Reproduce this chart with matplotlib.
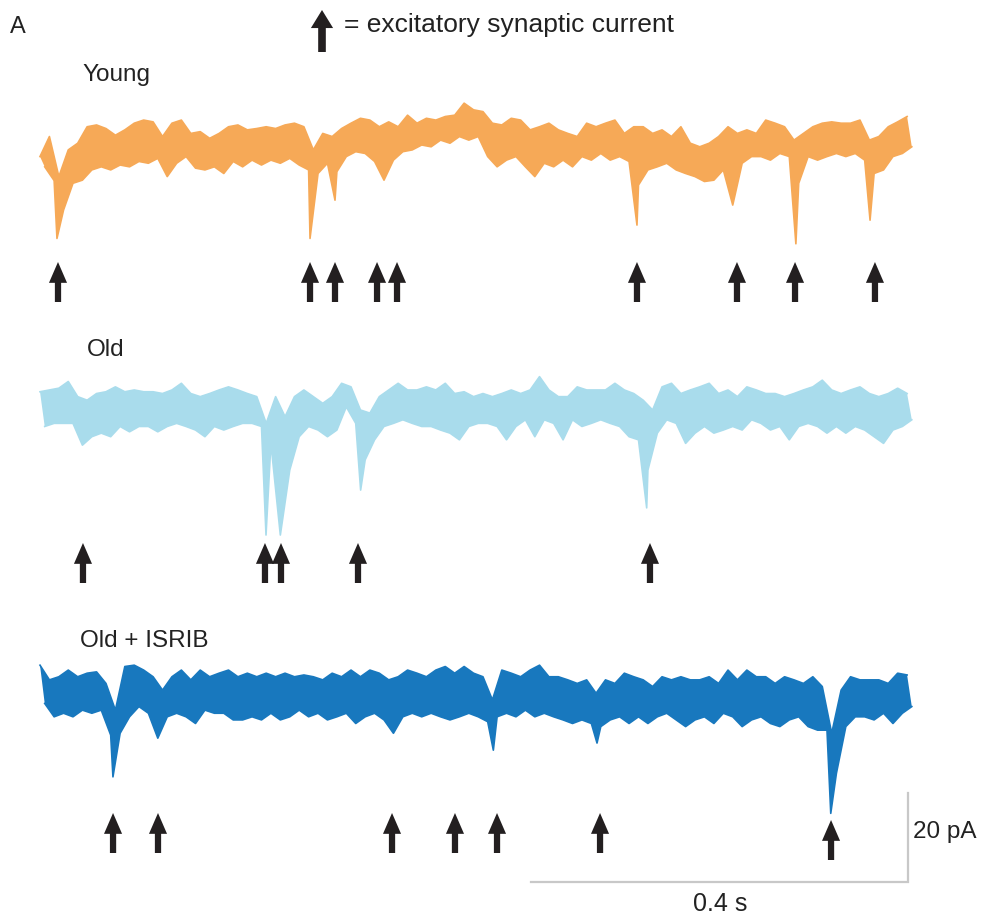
import matplotlib
matplotlib.use("Agg")
import matplotlib.pyplot as plt

plt.rcParams['font.family'] = ['Liberation Sans', 'DejaVu Sans']

# Recordings shown as min/max per 10 ms bin (pA, relative to each trace's baseline):
# the upper value sits at 10*k ms, the lower value at 10*k + 5 ms.
# Peaks of the sharp inward currents are listed separately as (ms, pA).
STEP = 10.0

young_hi = [-2.6, 1.9, -7.1, -1.1, 0.4, 4.1, 4.5, 3.7, 2.2, 3.4, 4.9, 5.6, 5.2, 1.9, 4.9, 5.6,
            2.6, 3.0, 1.5, 2.6, 4.1, 4.5, 3.4, 3.7, 4.1, 3.7, 4.5, 4.9, 4.1, -1.1, 2.6, 1.9,
            3.7, 4.9, 6.0, 5.6, 4.1, 5.2, 4.1, 6.7, 4.9, 6.0, 5.6, 6.4, 6.7, 9.4, 7.9, 7.5,
            4.9, 4.5, 6.0, 5.6, 3.4, 4.1, 4.9, 3.4, 2.6, 1.9, 4.9, 4.1, 4.9, 5.6, 2.6, 4.1,
            4.1, 2.6, 3.4, 1.9, 4.1, 0.4, -0.4, 0.4, 1.9, 4.1, 2.6, 3.4, 2.6, 5.6, 4.9, 4.1,
            1.1, 2.6, 4.1, 4.9, 5.2, 4.9, 4.9, 5.6, 1.1, 1.9, 4.1, 5.2, 6.4]
young_lo = [-4.9, -8.0, -14.6, -8.6, -7.9, -5.6, -4.9, -5.6, -4.5, -4.9, -3.7, -4.1, -3.0, -7.1, -4.1, -2.6,
            -5.2, -5.6, -4.9, -6.4, -3.7, -4.9, -3.4, -4.5, -3.4, -4.1, -3.0, -4.5, -5.6, -6.4, -4.1, -6.0,
            -2.6, -1.5, -1.9, -3.7, -7.9, -3.4, -1.5, -1.1, 0.0, -0.4, 1.1, 0.4, 1.9, 1.1, 1.9, -2.6,
            -4.9, -3.4, -2.6, -4.9, -7.1, -4.1, -4.9, -3.4, -4.9, -2.6, -3.4, -1.9, -3.4, -2.6, -3.7, -9.0,
            -5.6, -4.9, -4.1, -5.6, -6.4, -7.1, -8.2, -7.9, -5.6, -13.5, -4.1, -2.6, -2.6, -3.4, -1.9, -2.6,
            -8.6, -2.6, -3.4, -2.6, -1.9, -2.6, -1.9, -3.4, -6.4, -5.6, -2.6, -1.9, -0.4]
young_peaks = [(18.0, -21.0), (286.5, -21.0), (313.0, -12.4), (633.4, -18.0), (802.0, -22.2),
               (880.7, -16.9)]

old_hi = [4.1, 4.5, 4.9, 6.4, 3.0, 2.2, 3.7, 4.1, 5.2, 4.1, 4.5, 4.1, 4.1, 3.7, 4.5, 6.0,
          3.7, 3.0, 3.7, 4.5, 5.2, 4.5, 3.7, 3.0, -3.0, 3.0, -1.5, 3.0, 4.5, 3.0, 1.5, 3.0,
          6.0, 5.2, 0.0, -0.7, 3.0, 4.5, 6.0, 4.5, 4.5, 5.2, 4.5, 6.0, 3.7, 4.1, 3.0, 3.7,
          3.0, 3.7, 4.5, 3.7, 4.5, 7.5, 4.5, 3.0, 3.0, 5.2, 4.5, 4.5, 4.5, 6.0, 4.5, 3.7,
          2.2, 0.0, 5.2, 6.0, 3.7, 4.5, 5.2, 6.0, 3.7, 4.5, 3.0, 5.2, 4.5, 3.7, 3.7, 3.0,
          3.7, 4.5, 5.2, 6.7, 4.5, 3.7, 4.5, 5.2, 3.7, 3.0, 3.7, 4.9, 3.7]
old_lo = [-3.7, -3.0, -3.0, -3.0, -7.9, -6.0, -5.2, -6.0, -3.7, -4.9, -3.7, -3.7, -4.9, -3.7, -3.0, -3.7,
          -4.5, -6.0, -3.7, -4.5, -3.7, -3.0, -3.0, -3.7, -7.5, -28.1, -13.5, -6.0, -3.7, -4.5, -6.0, -4.5,
          0.7, -3.0, -11.2, -6.7, -3.7, -3.0, -2.2, -3.0, -3.7, -3.7, -4.5, -5.2, -6.7, -3.7, -3.0, -3.0,
          -3.7, -6.7, -3.7, -2.2, -6.0, -2.2, -3.0, -6.7, -2.2, -3.7, -3.0, -2.2, -3.0, -3.7, -6.0, -6.7,
          -13.5, -5.2, -2.2, -3.0, -7.5, -5.2, -3.7, -5.2, -4.5, -3.7, -4.5, -2.2, -3.0, -4.5, -3.7, -6.7,
          -3.7, -3.0, -3.7, -5.2, -3.7, -5.2, -3.7, -4.5, -6.0, -7.5, -4.5, -3.7, -2.2]
old_peaks = [(239.8, -28.1), (340.2, -18.0), (643.7, -22.0)]

isrib_hi = [6.7, 3.4, 4.1, 5.6, 4.1, 4.9, 5.2, 2.6, -3.4, 6.4, 6.7, 5.6, 4.1, 1.1, 4.1, 5.6,
            3.4, 5.6, 4.1, 4.9, 5.6, 4.1, 4.9, 4.1, 4.9, 4.1, 4.9, 4.1, 4.5, 4.1, 3.4, 4.9,
            4.1, 5.6, 4.1, 5.6, 4.9, 3.4, 4.1, 5.6, 4.9, 4.1, 5.6, 6.4, 4.9, 6.4, 4.9, 4.1,
            -1.1, 5.6, 4.9, 4.1, 5.6, 6.7, 4.1, 4.1, 3.4, 2.6, 3.4, 0.4, 3.4, 2.6, 4.9, 4.1,
            3.4, 1.9, 4.1, 3.4, 4.1, 3.4, 3.4, 4.1, 2.6, 5.6, 3.4, 5.6, 4.1, 4.1, 2.6, 4.1,
            3.4, 2.6, 4.1, 1.9, -8.6, 1.1, 4.1, 3.4, 3.4, 3.4, 2.6, 4.9, 4.5]
isrib_lo = [-1.9, -4.9, -4.1, -4.9, -3.4, -4.1, -3.4, -9.0, -8.6, -4.9, -2.6, -4.1, -9.7, -4.9, -4.1, -4.9,
            -6.4, -3.4, -4.1, -4.1, -5.6, -5.6, -4.9, -5.6, -4.1, -5.6, -4.9, -3.4, -4.9, -4.1, -5.6, -4.9,
            -4.1, -6.4, -4.9, -4.1, -5.6, -8.6, -4.9, -4.1, -4.9, -4.1, -4.9, -5.6, -4.9, -4.1, -4.9, -6.0,
            -4.9, -4.1, -4.9, -3.4, -4.9, -4.1, -4.9, -5.6, -6.4, -5.6, -6.4, -7.1, -5.6, -4.9, -6.4, -4.9,
            -6.4, -4.9, -4.1, -5.6, -7.1, -5.6, -4.9, -6.4, -4.1, -4.9, -7.1, -5.6, -4.9, -6.4, -7.1, -5.6,
            -4.9, -7.1, -7.9, -7.9, -17.6, -7.1, -4.9, -4.9, -5.6, -4.1, -6.4, -4.1, -2.6]
isrib_peaks = [(77.4, -18.4), (481.0, -12.4), (591.0, -10.8), (839.0, -26.6)]

# event times (ms) marked with arrows
young_events = [19.1, 286.5, 313.0, 357.6, 378.8, 633.4, 739.5, 801.1, 885.9]
old_events = [45.6, 238.7, 255.7, 337.4, 647.2]
isrib_events = [77.5, 125.2, 373.5, 440.3, 484.9, 594.2, 839.3]

labels = ["Young", "Old", "Old + ISRIB"]
colors = ["#F6A957", "#A9DCEC", "#1878BE"]

# layout (figure pixels -> data units)
MS_PX = 400 / 377.0
PA_PX = 1 / 4.45
W, H = 988, 915

fig = plt.figure(figsize=(W / 100, H / 100), dpi=100)
ax = fig.add_axes([0, 0, 1, 1])
ax.set_xlim(-40 * MS_PX, (W - 40) * MS_PX)
ax.set_ylim(-H * PA_PX, 0)
ax.axis("off")

baselines = [-145 * PA_PX, -410 * PA_PX, -695 * PA_PX]
arrow_rows = [(262, 302), (543, 583), (813, 853)]
label_pos = [(82, 75), (87, 350), (80, 641)]

traces = [(young_hi, young_lo, young_peaks, young_events),
          (old_hi, old_lo, old_peaks, old_events),
          (isrib_hi, isrib_lo, isrib_peaks, isrib_events)]

arrow_style = "simple,head_length=1.5,head_width=1.3,tail_width=0.45"
ink = "#231F20"
text_col = "#222222"

for i, (hi, lo, peaks, ev) in enumerate(traces):
    b = baselines[i]
    upper = [(k * STEP, b + v) for k, v in enumerate(hi)]
    lower = [(k * STEP + STEP / 2, b + v) for k, v in enumerate(lo)]
    lower += [(t, b + v) for t, v in peaks]
    lower.sort()
    poly = upper + lower[::-1]
    ax.fill([p[0] for p in poly], [p[1] for p in poly], color=colors[i], lw=0)
    ax.plot([p[0] for p in upper], [p[1] for p in upper], color=colors[i], lw=1.2)
    ax.plot([p[0] for p in lower], [p[1] for p in lower], color=colors[i], lw=1.2)
    tip, base = arrow_rows[i]
    for e in ev:
        tp, bs = tip, base
        if i == 2 and e > 800:
            tp, bs = tip + 7, base + 7
        ax.annotate("", xy=(e, -tp * PA_PX), xytext=(e, -bs * PA_PX),
                    arrowprops=dict(arrowstyle=arrow_style, color=ink, lw=0,
                                    shrinkA=0, shrinkB=0, mutation_scale=10))
    fig.text(label_pos[i][0] / W, 1 - label_pos[i][1] / H, labels[i],
             fontsize=17.5, ha="left", va="center", color=text_col)

# key arrow and title text
ax.annotate("", xy=((322 - 40) * MS_PX, -10 * PA_PX), xytext=((322 - 40) * MS_PX, -52 * PA_PX),
            arrowprops=dict(arrowstyle="simple,head_length=1.3,head_width=1.6,tail_width=0.55",
                            color=ink, lw=0, shrinkA=0, shrinkB=0, mutation_scale=10))
fig.text(344 / W, 1 - 25 / H, "= excitatory synaptic current", fontsize=19,
         ha="left", va="center", color=text_col)
fig.text(10 / W, 1 - 27 / H, "A", fontsize=17, ha="left", va="center", color=text_col)

# scale bars: 400 ms, 20 pA
x0 = (531 - 40) * MS_PX
y0 = -882 * PA_PX
ax.plot([x0, x0 + 400, x0 + 400], [y0, y0, y0 + 20], color="#C8C8C8", lw=1.6,
        solid_joinstyle="miter")
fig.text(720 / W, 1 - 904 / H, "0.4 s", fontsize=18, ha="center", va="center", color=text_col)
fig.text(913 / W, 1 - 832 / H, "20 pA", fontsize=17.5, ha="left", va="center", color=text_col)

fig.savefig("out.png", dpi=100, facecolor="white")
